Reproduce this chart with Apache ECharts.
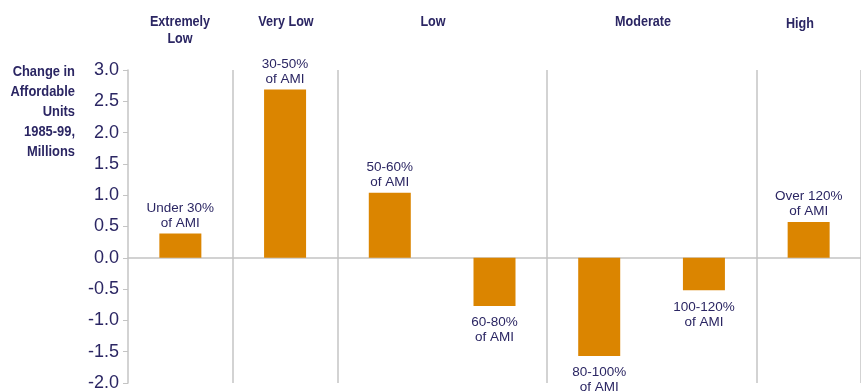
<!DOCTYPE html>
<html>
<head>
<meta charset="utf-8">
<script src="https://cdn.jsdelivr.net/npm/echarts@6/dist/echarts.min.js"></script>
<style>
html,body{margin:0;padding:0;background:#fff;}
#chart{width:861px;height:392px;}
</style>
</head>
<body>
<div id="chart"></div>
<script>
const categories = ['Under 30%\nof AMI', '30-50%\nof AMI', '50-60%\nof AMI', '60-80%\nof AMI', '80-100%\nof AMI', '100-120%\nof AMI', 'Over 120%\nof AMI'];
const values = [0.39, 2.69, 1.04, -0.77, -1.57, -0.52, 0.57];
const groupNames = ['Extremely\nLow', 'Very Low', 'Low', 'Moderate', 'High'];
const groupBoundaries = [1, 2, 4, 6];
const yTicks = { min: -2, max: 3, interval: 0.5 };
const yTitle = 'Change in\nAffordable\nUnits\n1985-99,\nMillions';

const NAVY = '#2b2663';
const GRAY = '#c4c4c4';
const ORANGE = '#db8500';
const FONT = '"Liberation Sans", Arial, sans-serif';

const chart = echarts.init(document.getElementById('chart'), null, { renderer: 'canvas' });

const barData = values.map((v, i) => ({
  value: v,
  label: {
    position: v >= 0 ? 'top' : 'bottom',
    distance: v >= 0 ? 3 : 9,
    formatter: categories[i]
  }
}));

// header positions (pixel x centers)
const headerX = [180, 286, 433, 643, 800];
const headerY = [13, 13, 13, 13, 15];

chart.setOption({
  animation: false,
  grid: { left: 128, right: 0, top: 70, bottom: 9, containLabel: false },
  xAxis: {
    type: 'category',
    data: categories,
    boundaryGap: true,
    axisLine: { show: true, onZero: true, lineStyle: { color: GRAY, width: 1.5 } },
    axisTick: { show: false },
    axisLabel: { show: false },
    splitLine: {
      show: true,
      interval: (idx) => groupBoundaries.includes(idx),
      lineStyle: { color: GRAY, width: 1.5 }
    }
  },
  yAxis: {
    type: 'value',
    min: yTicks.min,
    max: yTicks.max,
    interval: yTicks.interval,
    axisLine: { show: true, lineStyle: { color: GRAY, width: 1.5 } },
    axisTick: { show: true, length: 5, lineStyle: { color: GRAY } },
    splitLine: { show: false },
    axisLabel: {
      color: NAVY,
      fontSize: 18,
      fontFamily: FONT,
      margin: 9,
      formatter: (v) => v.toFixed(1)
    }
  },
  series: [{
    type: 'bar',
    data: barData,
    barWidth: 42,
    itemStyle: { color: ORANGE },
    label: {
      show: true,
      color: NAVY,
      fontSize: 13.5,
      lineHeight: 15,
      fontFamily: FONT,
      align: 'center'
    }
  }],
  graphic: [
    {
      type: 'text',
      x: 75, y: 62,
      scaleX: 0.86,
      style: {
        text: yTitle,
        fill: NAVY,
        font: 'bold 15px ' + FONT,
        textAlign: 'right',
        lineHeight: 20
      }
    }
  ].concat(groupNames.map((g, i) => ({
    type: 'text',
    x: headerX[i], y: headerY[i],
    scaleX: 0.84,
    style: {
      text: g,
      fill: NAVY,
      font: 'bold 15px ' + FONT,
      textAlign: 'center',
      lineHeight: 17
    }
  })))
});
</script>
</body>
</html>
